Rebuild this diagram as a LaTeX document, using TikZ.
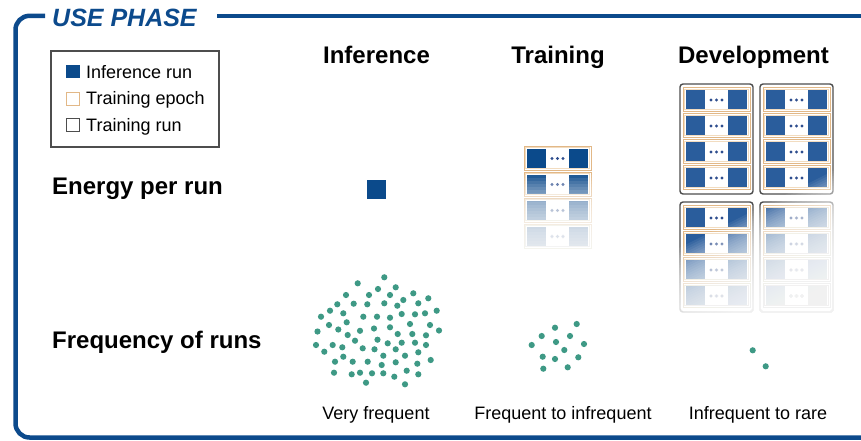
\documentclass[tikz,border=0pt]{standalone}
\usepackage{fontspec}
\setmainfont{Liberation Sans}

\definecolor{frameblue}{HTML}{0C4A8C}
\definecolor{runblue}{HTML}{0B4A8B}
\definecolor{devblue}{HTML}{2A5D9C}
\definecolor{epochtan}{HTML}{E2B887}
\definecolor{epochlight}{HTML}{F2DCC0}
\definecolor{dotteal}{HTML}{3E9985}
\definecolor{rungray}{HTML}{4D4D4D}
\definecolor{ellipsisblue}{HTML}{2E4E8E}

\tikzset{
  frame/.style={draw=frameblue, line width=4.5pt},
  titletext/.style={font=\fontsize{25}{29}\selectfont\bfseries\itshape, text=frameblue, anchor=base west, inner sep=0pt},
  header/.style={font=\fontsize{24}{28}\selectfont\bfseries, anchor=base, inner sep=0pt},
  rowlabel/.style={font=\fontsize{24}{28}\selectfont\bfseries, anchor=base west, inner sep=0pt},
  legendtext/.style={font=\fontsize{18}{21}\selectfont, anchor=base west, inner sep=0pt},
  caption/.style={font=\fontsize{18}{21}\selectfont, anchor=base, inner sep=0pt},
  rundot/.style={fill=dotteal},
  epochline/.style={draw=epochtan, line width=1pt},
  epochinner/.style={draw=epochlight, line width=0.8pt},
  runbox/.style={draw=rungray, line width=1.4pt, rounded corners=3pt},
}

% one training epoch: framed row with two batches and an ellipsis
% #1,#2 = top-left corner, #3 = batch colour
\newcommand\epochrow[3]{%
  \draw[epochline] (#1,#2) rectangle ++(67,24);
  \draw[epochinner] (#1+1.8,#2+1.8) rectangle ++(63.4,20.4);
  \fill[#3] (#1+3,#2+2.5) rectangle ++(19,19);
  \fill[#3] (#1+45,#2+2.5) rectangle ++(19,19);
  \foreach \k in {-5.5,0,5.5} \fill[ellipsisblue] (#1+33.5+\k,#2+12.5) circle (1.7);
}

% one training run: grey box holding four epochs
\newcommand\trainingrun[2]{%
  \draw[runbox] (#1,#2) rectangle ++(73,110);
  \foreach \i in {0,...,3} \epochrow{#1+3}{#2+3.5+26*\i}{devblue};
}

\begin{document}
\begin{tikzpicture}[x=1pt,y=-1pt]
\useasboundingbox (0,0) rectangle (861,440);

% outer frame with title gap
\draw[frame, rounded corners=14pt] (45,15.8) -- (15.5,15.8) -- (15.5,437.5) -- (880,437.5);
\draw[frame] (217,15.8) -- (880,15.8);
\node[titletext] (title) at (52,26) {USE PHASE};

% legend
\draw[draw=rungray, line width=1.3pt] (51,51) rectangle (219,147);
\fill[runblue] (65.5,64.5) rectangle (79.5,78);
\draw[epochtan, line width=1pt] (66,92) rectangle (79,105);
\draw[rungray, line width=1pt] (66,118) rectangle (79,131);
\node[legendtext] (leginf) at (86,78) {Inference run};
\node[legendtext] (legepoch) at (86,104.5) {Training epoch};
\node[legendtext] (legrun) at (86,131) {Training run};

% column headers and row labels
\node[header] (hinf) at (376.5,63) {Inference};
\node[header] (htrn) at (558,63) {Training};
\node[header] (hdev) at (753.5,63) {Development};
\node[rowlabel] (energy) at (52,194) {Energy per run};
\node[rowlabel] (freq) at (52,348) {Frequency of runs};

% energy: inference
\node[fill=runblue, minimum size=19.5pt, inner sep=0pt] (infrun) at (376.5,189.5) {};

% energy: training (epochs fading out)
\foreach \i in {0,...,3} \epochrow{524}{146+26*\i}{runblue};
\begin{scope}
  \clip (515,140) rectangle (600,258);
  \foreach \k in {0,...,40} {
    \pgfmathsetmacro\yy{175+3*\k}
    \fill[white, opacity=0.09] (515,\yy) rectangle (600,260);
  }
\end{scope}

% energy: development (four training runs fading out diagonally)
\trainingrun{680}{84}
\trainingrun{760}{84}
\trainingrun{680}{202}
\trainingrun{760}{202}
\begin{scope}
  \clip (672,78) rectangle (842,318);
  \foreach \k in {0,...,60} {
    \pgfmathsetmacro\cc{1175+5*\k}
    \fill[white, opacity=0.072] (660,{(\cc-660)/2}) -- (860,{(\cc-860)/2}) -- (860,500) -- (660,500) -- cycle;
  }
\end{scope}

% frequency: inference
\foreach \x/\y in {357.7/283.3, 346/295, 369/295, 378/289, 337.3/304.3, 353.7/303.7, 367.3/304.3,
  330/310.7, 343.3/313.3, 321/316.7, 363.3/316.7, 377/316.7, 329/325, 346.7/322.3, 317.5/331.5,
  338.3/329.5, 360/330.8, 374/328.5, 384.3/277.3, 395.7/287.3, 390/295, 413.3/293.3, 403.3/300,
  428.3/298.3, 384.3/303.3, 397.3/305.7, 418.3/303.3, 401.7/314, 415/314.3, 425/313.3, 436.7/310.7,
  390/317.7, 410/324, 430/325, 390/327.3, 439/330.5, 347.7/335, 355/340.7, 377.5/339.7, 316/345,
  332.7/345, 324.3/351.7, 342.3/347.3, 362.7/348.3, 374.5/349.3, 343.3/356.7, 335/361.7,
  352.7/361.7, 367.7/361.7, 334/372.7, 351.7/374.3, 360/372.7, 372/373.3, 366/382.7, 397.7/334,
  412.3/334, 426/335.3, 387.7/343.3, 401.7/342.7, 415/342.7, 426/345, 395.7/349.3, 418.3/352.3,
  383.3/355.7, 405/355.7, 430.7/360, 395.7/362.3, 417.3/363.7, 381.7/365, 383.3/373.3,
  394.3/376.7, 406.7/370.7, 418.3/374.3, 405/384.3}
  \fill[rundot] (\x,\y) circle (3.1);

% frequency: training
\foreach \x/\y in {576.7/324, 555/327.7, 541.7/336, 570/336, 556/342, 531.7/345, 584/344,
  564.3/350, 542.7/356.7, 555/359, 578.3/357.3, 543.3/368.7, 567.7/367.3}
  \fill[rundot] (\x,\y) circle (3.1);

% frequency: development
\foreach \x/\y in {752.7/350.3, 765.7/366.3}
  \fill[rundot] (\x,\y) circle (3.1);

% captions
\node[caption] (cinf) at (376,419) {Very frequent};
\node[caption] (ctrn) at (563,419) {Frequent to infrequent};
\node[caption] (cdev) at (758,419) {Infrequent to rare};
\end{tikzpicture}
\end{document}
